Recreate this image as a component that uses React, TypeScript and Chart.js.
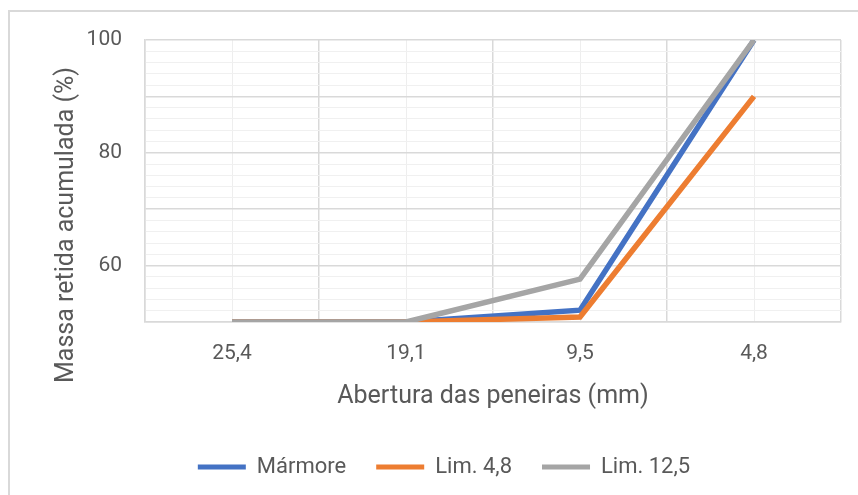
import React, { useEffect, useRef } from "react";
import { Chart, registerables } from "chart.js";

Chart.register(...registerables);

const categories = ["25,4", "19,1", "9,5", "4,8"];
const marmore = [50, 50, 52.1, 100];
const lim48 = [50, 50, 50.9, 90];
const lim125 = [50, 50, 57.6, 100];
const seriesNames = ["Mármore", "Lim. 4,8", "Lim. 12,5"];
const seriesColors = ["#4472C4", "#ED7D31", "#A5A5A5"];
const yTickLabels = [60, 80, 100];
const xTitle = "Abertura das peneiras (mm)";
const yTitle = "Massa retida acumulada (%)";

const TEXT = "#595959";
const FONT = "Roboto";

const yTitlePlugin = {
  id: "yTitlePlugin",
  afterDraw(chart: any) {
    const ctx = chart.ctx;
    ctx.save();
    ctx.translate(73, 225);
    ctx.rotate(-Math.PI / 2);
    ctx.font = `25px ${FONT}`;
    ctx.fillStyle = TEXT;
    ctx.textAlign = "center";
    ctx.textBaseline = "alphabetic";
    ctx.fillText(yTitle, 0, 0);
    ctx.restore();
  },
};

export default function App() {
  const ref = useRef<HTMLCanvasElement>(null);
  useEffect(() => {
    if (!ref.current) return;
    const seriesData = [marmore, lim48, lim125];
    const chart = new Chart(ref.current, {
      type: "line",
      data: {
        labels: categories,
        datasets: seriesData.map((d, i) => ({
          label: seriesNames[i],
          data: d,
          borderColor: seriesColors[i],
          backgroundColor: seriesColors[i],
          borderWidth: 5.5,
          pointRadius: 0,
          pointHoverRadius: 0,
          tension: 0,
          borderCapStyle: "butt",
          borderJoinStyle: "miter",
          order: 2 - i,
          xAxisID: "x",
        })),
      },
      options: {
        responsive: false,
        animation: false,
        events: [],
        layout: { padding: { left: 47, right: 17, top: 40, bottom: 7 } },
        plugins: {
          tooltip: { enabled: false },
          legend: {
            position: "bottom",
            labels: {
              font: { family: FONT, size: 22 },
              color: TEXT,
              boxWidth: 48,
              boxHeight: 5,
              padding: 30,
              sort: (a: any, b: any) => a.datasetIndex - b.datasetIndex,
              generateLabels: (c: any) => {
                const items = Chart.defaults.plugins.legend.labels.generateLabels(c);
                return items.map((it: any) => ({
                  ...it,
                  lineWidth: 0,
                  fillStyle: seriesColors[it.datasetIndex],
                  strokeStyle: seriesColors[it.datasetIndex],
                }));
              },
            },
          },
        },
        scales: {
          x2: {
            type: "category",
            position: "bottom",
            offset: true,
            z: -1,
            grid: { offset: false, color: "#eeeeee", lineWidth: 1, drawTicks: false },
            border: { display: false },
            ticks: { display: false },
            afterFit: (s: any) => {
              s.height = 0;
            },
          },
          x: {
            type: "category",
            position: "bottom",
            offset: true,
            grid: { offset: true, color: "#d9d9d9", lineWidth: 1.5, drawTicks: false },
            border: { display: true, color: "#d9d9d9", width: 1.5 },
            ticks: {
              font: { family: FONT, size: 21 },
              color: TEXT,
              padding: 19,
              maxRotation: 0,
            },
            title: {
              display: true,
              text: xTitle,
              font: { family: FONT, size: 25 },
              color: TEXT,
              padding: { top: 0, bottom: 14 },
            },
            afterFit: (s: any) => {
              s.height = 104;
            },
          },
          y: {
            type: "linear",
            min: 50,
            max: 100,
            grid: {
              drawTicks: false,
              color: (c: any) => (c.tick && c.tick.value % 10 === 0 ? "#d9d9d9" : "#f0f0f0"),
              lineWidth: (c: any) => (c.tick && c.tick.value % 10 === 0 ? 1.5 : 1),
            },
            border: { display: true, color: "#d9d9d9", width: 1.5 },
            ticks: {
              stepSize: 2,
              autoSkip: false,
              maxTicksLimit: 100,
              font: { family: FONT, size: 21 },
              color: TEXT,
              padding: 23,
              callback: (v: any) => (yTickLabels.includes(Number(v)) ? String(v) : ""),
            },
            afterFit: (s: any) => {
              s.width = 98;
            },
          },
        },
      },
      plugins: [yTitlePlugin],
    } as any);
    return () => chart.destroy();
  }, []);

  return (
    <div
      style={{
        position: "fixed",
        left: 0,
        top: 0,
        width: 858,
        height: 495,
        overflow: "hidden",
        background: "#ffffff",
      }}
    >
      <div
        style={{
          position: "absolute",
          left: 8,
          top: 10,
          width: 900,
          height: 600,
          border: "2px solid #d9d9d9",
          boxSizing: "border-box",
        }}
      />
      <canvas
        ref={ref}
        width={858}
        height={495}
        style={{ position: "absolute", left: 0, top: 0, width: 858, height: 495 }}
      />
    </div>
  );
}
